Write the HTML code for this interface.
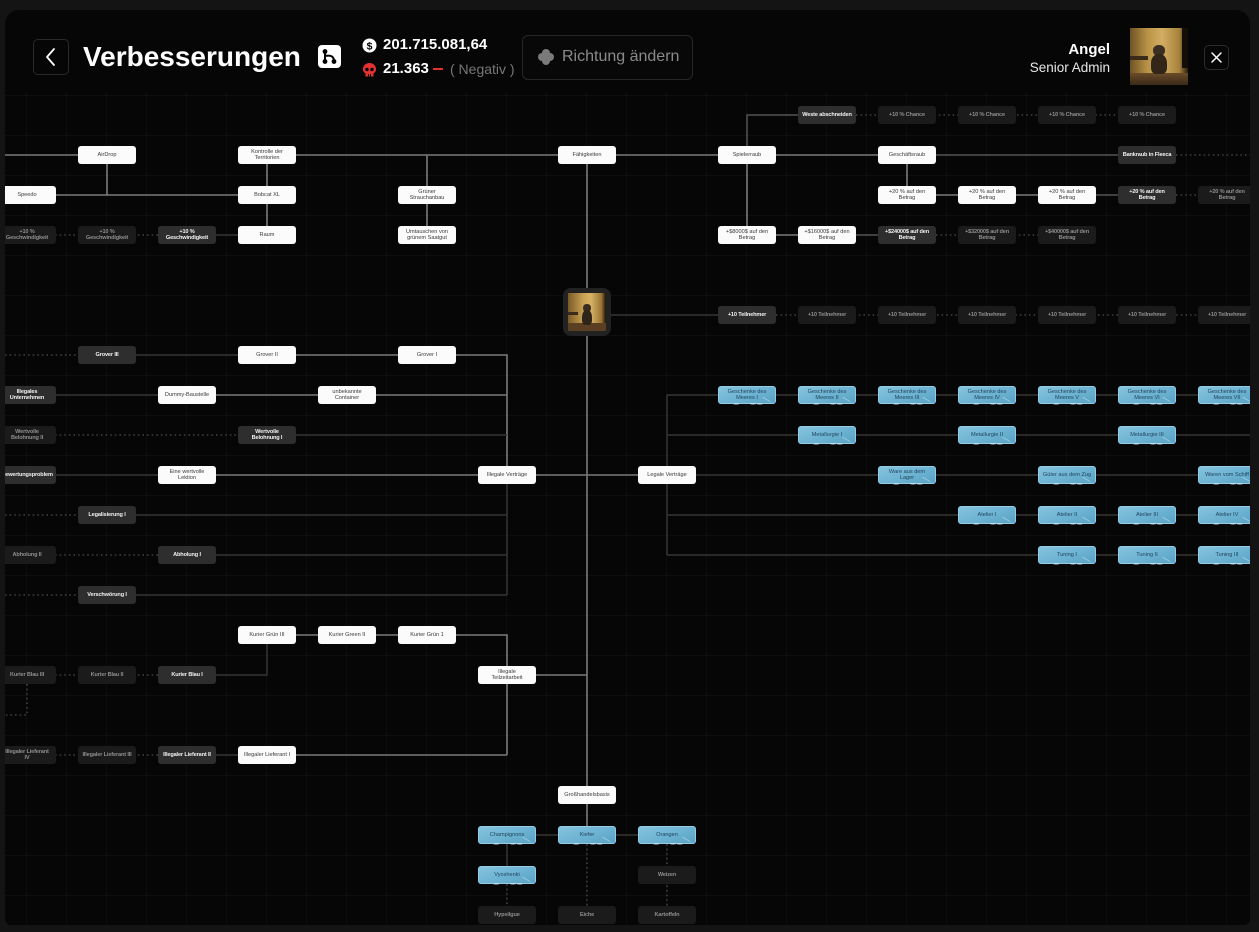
<!DOCTYPE html>
<html><head><meta charset="utf-8">
<style>
*{box-sizing:border-box;margin:0;padding:0}
html,body{width:1259px;height:932px;background:#141414;overflow:hidden;font-family:"Liberation Sans",Arial,sans-serif}
#panel{position:absolute;left:5px;top:10px;width:1245px;height:915px;overflow:hidden;border-radius:14px 14px 6px 6px;background:#060606}
#in{position:absolute;left:-5px;top:-10px;width:1259px;height:932px}
#grid{position:absolute;left:0;top:92px;width:1259px;height:840px;
background-image:linear-gradient(to right,rgba(255,255,255,0.028) 1px,transparent 1px),linear-gradient(to bottom,rgba(255,255,255,0.028) 1px,transparent 1px);
background-size:40px 40px;background-position:26px 3px}
svg.lines{position:absolute;left:0;top:0}
.n{position:absolute;width:58px;height:18px;border-radius:3px;display:flex;align-items:center;justify-content:center;text-align:center;font-size:5.6px;line-height:6.5px;white-space:nowrap}
.w{background:#fbfbfb;color:#3a3a3a}
.a{background:#2e2e2e;color:#f2f2f2;font-weight:bold;letter-spacing:-0.15px}
.l{background:#1b1b1b;color:#8e8e8e;font-weight:bold;letter-spacing:-0.15px}
.b{background:linear-gradient(160deg,#84c4de 0%,#6cb2d2 55%,#5aa2c4 100%);color:#22445a;border:1px solid #92cde4}
.b::after{content:"";position:absolute;left:8px;right:6px;bottom:-2px;height:2.5px;opacity:0.75;
background:radial-gradient(ellipse 4px 1.3px at 22% 40%,#cfe3ea 70%,transparent 75%),radial-gradient(ellipse 4px 1.3px at 62% 40%,#cfe3ea 70%,transparent 75%),radial-gradient(ellipse 4px 1.3px at 78% 40%,#cfe3ea 70%,transparent 75%)}
.b::before{content:"";position:absolute;right:4px;bottom:3px;width:9px;height:1px;background:rgba(230,248,255,0.45);transform:rotate(30deg)}
.hdr{position:absolute}
</style></head>
<body>
<div id="panel"><div id="in">
<div id="grid"></div>

<!-- header -->
<div class="hdr" style="left:33px;top:39px;width:36px;height:36px;border:1px solid #2a2a2a;border-radius:5px;">
<svg width="36" height="36" style="position:absolute;left:-1px;top:-1px"><polyline points="21,10 14,18 21,26" fill="none" stroke="#fff" stroke-width="1.8" stroke-linecap="round" stroke-linejoin="round"/></svg>
</div>
<div class="hdr" style="left:83px;top:40px;font-size:28px;font-weight:bold;color:#fff;line-height:34px;">Verbesserungen</div>
<div class="hdr" style="left:318px;top:45px;width:23px;height:23px;background:#fff;border-radius:4px;">
<svg width="23" height="23"><circle cx="7" cy="6.5" r="2.4" fill="#000"/><circle cx="7" cy="16.5" r="2.4" fill="#000"/><circle cx="16" cy="16.5" r="2.4" fill="#000"/><path d="M7 6.5 V16.5 M7 11 Q16 9 16 16.5" fill="none" stroke="#000" stroke-width="2"/></svg>
</div>
<svg class="hdr" style="left:362px;top:38px" width="15" height="15"><circle cx="7.5" cy="7.5" r="7" fill="#fff"/><text x="7.5" y="11.3" text-anchor="middle" font-size="10.5" font-weight="bold" font-family="Liberation Sans" fill="#000">$</text></svg>
<div class="hdr" style="left:383px;top:36px;font-size:15px;font-weight:bold;color:#fff;line-height:18px;">201.715.081,64</div>
<svg class="hdr" style="left:362px;top:62px" width="15" height="16"><path d="M7.5 1 C3.5 1 1 3.8 1 7.2 C1 9.4 2.2 10.6 3.5 11.3 L3.5 14.5 L11.5 14.5 L11.5 11.3 C12.8 10.6 14 9.4 14 7.2 C14 3.8 11.5 1 7.5 1Z" fill="#e5312f"/><circle cx="5" cy="7.5" r="1.7" fill="#000"/><circle cx="10" cy="7.5" r="1.7" fill="#000"/><rect x="6" y="12" width="1" height="2.5" fill="#000"/><rect x="8" y="12" width="1" height="2.5" fill="#000"/></svg>
<div class="hdr" style="left:383px;top:60px;font-size:15px;font-weight:bold;color:#fff;line-height:18px;">21.363</div>
<div class="hdr" style="left:433px;top:68px;width:10px;height:2px;background:#e5312f"></div>
<div class="hdr" style="left:450px;top:61px;font-size:14px;color:#777;line-height:17px;">( Negativ )</div>

<div class="hdr" style="left:522px;top:35px;width:171px;height:45px;border:1px solid #262626;border-radius:6px;background:#080808;"></div>
<svg class="hdr" style="left:537px;top:48px" width="18" height="18"><circle cx="9" cy="5" r="4" fill="#7a7a7a"/><circle cx="5" cy="9" r="4" fill="#7a7a7a"/><circle cx="13" cy="9" r="4" fill="#7a7a7a"/><circle cx="9" cy="13" r="4" fill="#7a7a7a"/></svg>
<div class="hdr" style="left:562px;top:47px;font-size:16px;color:#8a8a8a;line-height:19px;">Richtung ändern</div>

<div class="hdr" style="left:1000px;top:41px;width:110px;text-align:right;font-size:15px;font-weight:bold;color:#fff;line-height:17px;">Angel</div>
<div class="hdr" style="left:990px;top:59px;width:120px;text-align:right;font-size:13.5px;color:#e8e8e8;line-height:17px;">Senior Admin</div>
<div class="hdr" style="left:1130px;top:28px;width:58px;height:57px;overflow:hidden;background:linear-gradient(90deg,#6e5325 0%,#b99245 30%,#d3ad62 55%,#a7823c 85%,#2a1d0e 100%);">
<div style="position:absolute;left:0;top:28px;width:18px;height:4px;background:#3a2a1a"></div>
<div style="position:absolute;left:0;bottom:0;width:58px;height:12px;background:linear-gradient(180deg,#6a4c2a,#3a2a18)"></div>
<div style="position:absolute;left:23px;top:17px;width:12px;height:11px;border-radius:45%;background:#3b2e22"></div>
<div style="position:absolute;left:21px;top:26px;width:16px;height:20px;border-radius:45% 45% 30% 30%;background:#322619"></div>
<div style="position:absolute;right:0;top:0;width:6px;height:40px;background:#140e08"></div>
</div>
<div class="hdr" style="left:1204px;top:45px;width:25px;height:25px;border:1px solid #2c2c2c;border-radius:5px;">
<svg width="25" height="25" style="position:absolute;left:-1px;top:-1px"><path d="M8 8 L17 17 M17 8 L8 17" stroke="#fff" stroke-width="1.5" stroke-linecap="round"/></svg>
</div>

<!-- connectors -->
<svg class="lines" width="1259" height="932">
<g fill="none" stroke="#7a7a7a" stroke-width="1.6">
<path d="M5 155 H78"/>
<path d="M107 164 V195"/>
<path d="M55 195 H238"/>
<path d="M267 164 V226"/>
<path d="M296 155 H558"/>
<path d="M427 155 V226"/>
<path d="M616 155 H718"/>
<path d="M776 155 H878"/>
<path d="M747 164 V226"/>
<path d="M776 235 H798"/>
<path d="M907 164 V186"/>
<path d="M936 195 H958 M1016 195 H1038"/>
<path d="M587 164 V288 M587 336 V786"/>
<path d="M536 475 H638"/>
<path d="M296 355 H398"/>
<path d="M456 355 H507 V475"/>
<path d="M216 395 H318 M376 395 H507"/>
<path d="M216 475 H478"/>
<path d="M296 635 H318 M376 635 H398"/>
<path d="M456 635 H507 V755"/>
<path d="M296 755 H507"/>
<path d="M536 675 H587"/>
<path d="M587 804 V826"/>
</g>
<g fill="none" stroke="#545454" stroke-width="1.5">
<path d="M747 146 V115 H798"/>
<path d="M936 155 H1118"/>
<path d="M1096 195 H1118"/>
<path d="M856 235 H878"/>
</g>
<g fill="none" stroke="#353535" stroke-width="1.5">
<path d="M216 235 H238"/>
<path d="M136 355 H238"/>
<path d="M55 395 H158"/>
<path d="M296 435 H507"/>
<path d="M55 475 H158"/>
<path d="M507 484 V595"/>
<path d="M136 515 H507 M216 555 H507 M136 595 H507"/>
<path d="M216 675 H267 V644"/>
<path d="M216 755 H238"/>
<path d="M611 315 H718"/>
<path d="M667 395 V555"/>
<path d="M667 395 H1259 M667 435 H1259 M696 475 H1259 M667 515 H1259 M667 555 H1259"/>
<path d="M536 835 H638"/>
<path d="M507 844 V866"/>
</g>
<g fill="none" stroke="#3f3f3f" stroke-width="1.6" stroke-dasharray="1.6 3">
<path d="M856 115 H1118"/>
<path d="M1176 155 H1259"/>
<path d="M1176 195 H1198"/>
<path d="M55 235 H158"/>
<path d="M936 235 H1038"/>
<path d="M776 315 H1259"/>
<path d="M5 355 H78"/>
<path d="M55 435 H238"/>
<path d="M5 515 H78"/>
<path d="M55 555 H158"/>
<path d="M5 595 H78"/>
<path d="M55 675 H158"/>
<path d="M27 684 V715 H5"/>
<path d="M55 755 H158"/>
<path d="M507 884 V906"/>
<path d="M587 844 V906"/>
<path d="M667 844 V906"/>
</g>
</svg>

<!-- center image node -->
<div style="position:absolute;left:563px;top:288px;width:48px;height:48px;border-radius:8px;background:#222;">
<div style="position:absolute;left:5px;top:5px;width:38px;height:38px;overflow:hidden;background:linear-gradient(90deg,#7a5a28 0%,#c9a154 40%,#d8b266 60%,#9a7434 88%,#1a120a 100%);">
<div style="position:absolute;left:0;bottom:0;width:38px;height:8px;background:#5a3f22"></div>
<div style="position:absolute;left:0;top:19px;width:10px;height:3px;background:#3a2a1a"></div>
<div style="position:absolute;left:15px;top:11px;width:8px;height:8px;border-radius:45%;background:#3a2c20"></div>
<div style="position:absolute;left:14px;top:17px;width:10px;height:15px;border-radius:45% 45% 30% 30%;background:#2f2418"></div>
</div>
</div>

<!-- Row 115 -->
<div class="n a" style="left:798px;top:106px">Weste abschneiden</div>
<div class="n l" style="left:878px;top:106px">+10 % Chance</div>
<div class="n l" style="left:958px;top:106px">+10 % Chance</div>
<div class="n l" style="left:1038px;top:106px">+10 % Chance</div>
<div class="n l" style="left:1118px;top:106px">+10 % Chance</div>

<!-- Row 155 -->
<div class="n w" style="left:78px;top:146px">AirDrop</div>
<div class="n w" style="left:238px;top:146px">Kontrolle der<br>Territorien</div>
<div class="n w" style="left:558px;top:146px">Fähigkeiten</div>
<div class="n w" style="left:718px;top:146px">Spielerraub</div>
<div class="n w" style="left:878px;top:146px">Geschäftsraub</div>
<div class="n a" style="left:1118px;top:146px">Bankraub in Fleeca</div>

<!-- Row 195 -->
<div class="n w" style="left:-2px;top:186px">Speedo</div>
<div class="n w" style="left:238px;top:186px">Bobcat XL</div>
<div class="n w" style="left:398px;top:186px">Grüner<br>Strauchanbau</div>
<div class="n w" style="left:878px;top:186px">+20 % auf den<br>Betrag</div>
<div class="n w" style="left:958px;top:186px">+20 % auf den<br>Betrag</div>
<div class="n w" style="left:1038px;top:186px">+20 % auf den<br>Betrag</div>
<div class="n a" style="left:1118px;top:186px">+20 % auf den<br>Betrag</div>
<div class="n l" style="left:1198px;top:186px">+20 % auf den<br>Betrag</div>

<!-- Row 235 -->
<div class="n l" style="left:-2px;top:226px">+10 %<br>Geschwindigkeit</div>
<div class="n l" style="left:78px;top:226px">+10 %<br>Geschwindigkeit</div>
<div class="n a" style="left:158px;top:226px">+10 %<br>Geschwindigkeit</div>
<div class="n w" style="left:238px;top:226px">Raum</div>
<div class="n w" style="left:398px;top:226px">Umtauschen von<br>grünem Saatgut</div>
<div class="n w" style="left:718px;top:226px">+$8000$ auf den<br>Betrag</div>
<div class="n w" style="left:798px;top:226px">+$16000$ auf den<br>Betrag</div>
<div class="n a" style="left:878px;top:226px">+$24000$ auf den<br>Betrag</div>
<div class="n l" style="left:958px;top:226px">+$32000$ auf den<br>Betrag</div>
<div class="n l" style="left:1038px;top:226px">+$40000$ auf den<br>Betrag</div>

<!-- Row 315 -->
<div class="n a" style="left:718px;top:306px">+10 Teilnehmer</div>
<div class="n l" style="left:798px;top:306px">+10 Teilnehmer</div>
<div class="n l" style="left:878px;top:306px">+10 Teilnehmer</div>
<div class="n l" style="left:958px;top:306px">+10 Teilnehmer</div>
<div class="n l" style="left:1038px;top:306px">+10 Teilnehmer</div>
<div class="n l" style="left:1118px;top:306px">+10 Teilnehmer</div>
<div class="n l" style="left:1198px;top:306px">+10 Teilnehmer</div>

<!-- Row 355 -->
<div class="n a" style="left:78px;top:346px">Grover III</div>
<div class="n w" style="left:238px;top:346px">Grover II</div>
<div class="n w" style="left:398px;top:346px">Grover I</div>

<!-- Row 395 -->
<div class="n a" style="left:-2px;top:386px">Illegales<br>Unternehmen</div>
<div class="n w" style="left:158px;top:386px">Dummy-Baustelle</div>
<div class="n w" style="left:318px;top:386px">unbekannte<br>Container</div>
<div class="n b" style="left:718px;top:386px">Geschenke des<br>Meeres I</div>
<div class="n b" style="left:798px;top:386px">Geschenke des<br>Meeres II</div>
<div class="n b" style="left:878px;top:386px">Geschenke des<br>Meeres III</div>
<div class="n b" style="left:958px;top:386px">Geschenke des<br>Meeres IV</div>
<div class="n b" style="left:1038px;top:386px">Geschenke des<br>Meeres V</div>
<div class="n b" style="left:1118px;top:386px">Geschenke des<br>Meeres VI</div>
<div class="n b" style="left:1198px;top:386px">Geschenke des<br>Meeres VII</div>

<!-- Row 435 -->
<div class="n l" style="left:-2px;top:426px">Wertvolle<br>Belohnung II</div>
<div class="n a" style="left:238px;top:426px">Wertvolle<br>Belohnung I</div>
<div class="n b" style="left:798px;top:426px">Metallurgie I</div>
<div class="n b" style="left:958px;top:426px">Metallurgie II</div>
<div class="n b" style="left:1118px;top:426px">Metallurgie III</div>

<!-- Row 475 -->
<div class="n a" style="left:-2px;top:466px">Bewertungsproblem</div>
<div class="n w" style="left:158px;top:466px">Eine wertvolle<br>Lektion</div>
<div class="n w" style="left:478px;top:466px">Illegale Verträge</div>
<div class="n w" style="left:638px;top:466px">Legale Verträge</div>
<div class="n b" style="left:878px;top:466px">Ware aus dem<br>Lager</div>
<div class="n b" style="left:1038px;top:466px">Güter aus dem Zug</div>
<div class="n b" style="left:1198px;top:466px">Waren vom Schiff</div>

<!-- Row 515 -->
<div class="n a" style="left:78px;top:506px">Legalisierung I</div>
<div class="n b" style="left:958px;top:506px">Atelier I</div>
<div class="n b" style="left:1038px;top:506px">Atelier II</div>
<div class="n b" style="left:1118px;top:506px">Atelier III</div>
<div class="n b" style="left:1198px;top:506px">Atelier IV</div>

<!-- Row 555 -->
<div class="n l" style="left:-2px;top:546px">Abholung II</div>
<div class="n a" style="left:158px;top:546px">Abholung I</div>
<div class="n b" style="left:1038px;top:546px">Tuning I</div>
<div class="n b" style="left:1118px;top:546px">Tuning II</div>
<div class="n b" style="left:1198px;top:546px">Tuning III</div>

<!-- Row 595 -->
<div class="n a" style="left:78px;top:586px">Verschwörung I</div>

<!-- Row 635 -->
<div class="n w" style="left:238px;top:626px">Kurier Grün III</div>
<div class="n w" style="left:318px;top:626px">Kurier Green II</div>
<div class="n w" style="left:398px;top:626px">Kurier Grün 1</div>

<!-- Row 675 -->
<div class="n l" style="left:-2px;top:666px">Kurier Blau III</div>
<div class="n l" style="left:78px;top:666px">Kurier Blau II</div>
<div class="n a" style="left:158px;top:666px">Kurier Blau I</div>
<div class="n w" style="left:478px;top:666px">Illegale<br>Teilzeitarbeit</div>

<!-- Row 755 -->
<div class="n l" style="left:-2px;top:746px">Illegaler Lieferant<br>IV</div>
<div class="n l" style="left:78px;top:746px">Illegaler Lieferant III</div>
<div class="n a" style="left:158px;top:746px">Illegaler Lieferant II</div>
<div class="n w" style="left:238px;top:746px">Illegaler Lieferant I</div>

<!-- Bottom tree -->
<div class="n w" style="left:558px;top:786px">Großhandelsbasis</div>
<div class="n b" style="left:478px;top:826px">Champignons</div>
<div class="n b" style="left:558px;top:826px">Kiefer</div>
<div class="n b" style="left:638px;top:826px">Orangen</div>
<div class="n b" style="left:478px;top:866px">Vyoshenki</div>
<div class="n l" style="left:638px;top:866px">Weizen</div>
<div class="n l" style="left:478px;top:906px">Hypsilgue</div>
<div class="n l" style="left:558px;top:906px">Eiche</div>
<div class="n l" style="left:638px;top:906px">Kartoffeln</div>

</div></div>
</body></html>
